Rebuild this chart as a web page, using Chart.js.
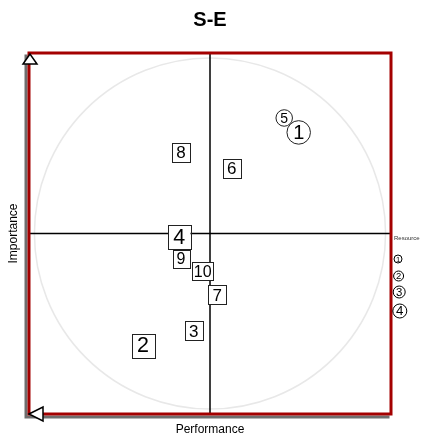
<!DOCTYPE html>
<html>
<head>
<meta charset="utf-8">
<script src="https://cdn.jsdelivr.net/npm/chart.js@4"></script>
<style>
body { margin: 0; background: #fff; }
</style>
</head>
<body>
<canvas id="chart" width="421" height="438"></canvas>
<script>
// items on the performance / importance grid
const item_labels = ['1', '2', '3', '4', '5', '6', '7', '8', '9', '10'];
const performance = [0.49, -0.37, -0.09, -0.17, 0.41, 0.12, 0.04, -0.16, -0.16, -0.04];
const importance = [0.56, -0.62, -0.54, -0.02, 0.64, 0.36, -0.34, 0.45, -0.14, -0.21];
const resource = [4, 4, 3, 4, 1, 3, 3, 3, 2, 2];
const marker = ['circle', 'box', 'box', 'box', 'circle', 'box', 'box', 'box', 'box', 'box'];
const resource_levels = ['1', '2', '3', '4'];

const FONT = "'Liberation Sans', Arial, sans-serif";

// marker size in px for each resource level
function Size_For_Resource( level ) {
    var sizes = { 1: 16.5, 2: 18, 3: 19, 4: 23.5 };
    return sizes[level];
}

var points = [];
for ( var i=0; i<item_labels.length; i++ ) {
    points.push({ x: performance[i], y: importance[i] });
}

const framePlugin = {
    id: 'frame',
    beforeDatasetsDraw(chart) {
        const ctx = chart.ctx;
        const a = chart.chartArea;
        const sx = chart.scales.x, sy = chart.scales.y;
        ctx.save();

        // shadow behind the frame
        ctx.fillStyle = '#6e6e6e';
        ctx.fillRect(a.left - 4.5, a.top + 1.5, a.width + 3, a.height + 3);
        ctx.fillStyle = '#fff';
        ctx.fillRect(a.left - 1.5, a.top - 1.5, a.width + 3, a.height + 3);

        // light circle
        const cx = sx.getPixelForValue(0), cy = sy.getPixelForValue(0);
        const r = sx.getPixelForValue(0.97) - cx;
        ctx.strokeStyle = '#e8e8e8';
        ctx.lineWidth = 1.5;
        ctx.beginPath();
        ctx.arc(cx, cy, r, 0, Math.PI * 2);
        ctx.stroke();

        // quadrant lines
        ctx.strokeStyle = '#000';
        ctx.lineWidth = 1.5;
        ctx.beginPath();
        ctx.moveTo(cx, a.top);
        ctx.lineTo(cx, a.bottom);
        ctx.moveTo(a.left, cy);
        ctx.lineTo(a.right, cy);
        ctx.stroke();

        // red frame
        ctx.strokeStyle = '#a40000';
        ctx.lineWidth = 3;
        ctx.strokeRect(a.left, a.top, a.width, a.height);

        // axis arrows
        ctx.fillStyle = '#fff';
        ctx.strokeStyle = '#000';
        ctx.lineWidth = 1.5;
        ctx.beginPath();
        ctx.moveTo(a.left + 1, a.top + 1);
        ctx.lineTo(a.left - 6, a.top + 11);
        ctx.lineTo(a.left + 8, a.top + 11);
        ctx.closePath();
        ctx.fill();
        ctx.stroke();
        ctx.beginPath();
        ctx.moveTo(a.left, a.bottom);
        ctx.lineTo(a.left + 14, a.bottom - 7);
        ctx.lineTo(a.left + 14, a.bottom + 7);
        ctx.closePath();
        ctx.fill();
        ctx.stroke();

        // axis titles
        ctx.fillStyle = '#000';
        ctx.font = '12px ' + FONT;
        ctx.textAlign = 'center';
        ctx.textBaseline = 'middle';
        ctx.fillText('Performance', cx, a.bottom + 16);
        ctx.save();
        ctx.translate(14, cy);
        ctx.rotate(-Math.PI / 2);
        ctx.fillText('Importance', 0, 0);
        ctx.restore();

        ctx.restore();
    },
    afterDatasetsDraw(chart) {
        const ctx = chart.ctx;
        const meta = chart.getDatasetMeta(0);
        ctx.save();
        ctx.textAlign = 'center';
        ctx.textBaseline = 'middle';
        // draw from last to first so item 1 sits on top
        for ( var i=meta.data.length-1; i>=0; i-- ) {
            var pt = meta.data[i];
            var size = Size_For_Resource(resource[i]);
            var label = item_labels[i];
            ctx.fillStyle = '#fff';
            ctx.strokeStyle = '#222';
            ctx.lineWidth = 1;
            if ( marker[i] == 'circle' ) {
                var rad = size / 2;
                ctx.beginPath();
                ctx.arc(pt.x, pt.y, rad, 0, Math.PI * 2);
                ctx.fill();
                ctx.stroke();
                ctx.font = Math.round(size * 0.85) + 'px ' + FONT;
            } else {
                var fs = size - 2;
                ctx.font = fs + 'px ' + FONT;
                var tw = ctx.measureText(label).width;
                var w = Math.max(size - 1, tw + 3);
                ctx.fillRect(pt.x - w / 2, pt.y - size / 2, w, size);
                ctx.strokeRect(Math.round(pt.x - w / 2) + 0.5, Math.round(pt.y - size / 2) + 0.5, Math.round(w), Math.round(size));
            }
            ctx.fillStyle = '#000';
            ctx.fillText(label, pt.x, pt.y + 1);
        }

        // resource legend
        const a = chart.chartArea;
        var lx = a.right + 7;
        ctx.font = '6px ' + FONT;
        ctx.fillStyle = '#333';
        ctx.textAlign = 'left';
        ctx.fillText('Resource', a.right + 3, 238);
        ctx.textAlign = 'center';
        var legend_y = [259, 276, 292, 311];
        for ( var j=0; j<resource_levels.length; j++ ) {
            var rr = 4 + j;
            ctx.strokeStyle = '#000';
            ctx.lineWidth = 1;
            ctx.beginPath();
            ctx.arc(lx + j * 0.6, legend_y[j], rr, 0, Math.PI * 2);
            ctx.stroke();
            ctx.fillStyle = '#000';
            ctx.font = (rr * 1.9) + 'px ' + FONT;
            ctx.fillText(resource_levels[j], lx + j * 0.6, legend_y[j] + 0.5);
        }
        ctx.restore();
    }
};

const config = {
    type: 'scatter',
    data: {
        datasets: [{
            data: points,
            pointRadius: 0,
            pointHoverRadius: 0,
        }],
    },
    options: {
        responsive: false,
        animation: false,
        layout: {
            padding: { left: 29, right: 30, top: 0, bottom: 24 },
        },
        scales: {
            x: { display: false, min: -1, max: 1 },
            y: { display: false, min: -1, max: 1 },
        },
        plugins: {
            legend: { display: false },
            tooltip: { enabled: false },
            title: {
                display: true,
                text: 'S-E',
                color: '#000',
                font: { size: 20, weight: 'bold', family: FONT },
                padding: { top: 8, bottom: 21 },
            },
        },
    },
    plugins: [framePlugin],
};

window.onload = function() {
    var canvas = document.getElementById('chart').getContext('2d');
    new Chart(canvas, config);
};
</script>
</body>
</html>
